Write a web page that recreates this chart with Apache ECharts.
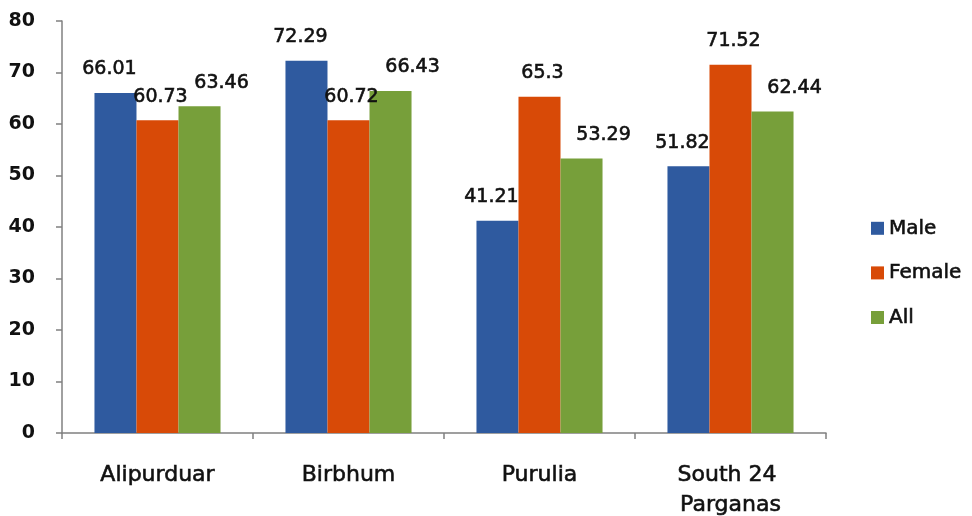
<!DOCTYPE html>
<html>
<head>
<meta charset="utf-8">
<script src="https://cdn.jsdelivr.net/npm/echarts@6/dist/echarts.min.js"></script>
<style>
  html, body { margin: 0; padding: 0; background: #fff; }
  #chart { width: 972px; height: 516px; }
</style>
</head>
<body>
<div id="chart"></div>
<script>
// districts on the x axis
var categories = ['Alipurduar', 'Birbhum', 'Purulia', 'South 24 Parganas'];
var maleValues = [66.01, 72.29, 41.21, 51.82];
var femaleValues = [60.73, 60.72, 65.3, 71.52];
var allValues = [63.46, 66.43, 53.29, 62.44];
var yTicks = [0, 10, 20, 30, 40, 50, 60, 70, 80];

var chart = echarts.init(document.getElementById('chart'));

function barSeries(name, color, values, dx) {
  return {
    name: name,
    type: 'bar',
    data: values,
    barGap: '0%',
    barCategoryGap: '34%',
    itemStyle: { color: color },
    label: {
      show: true,
      position: 'top',
      distance: 14,
      offset: [dx, 0],
      fontFamily: 'DejaVu Sans',
      fontSize: 19,
      color: '#111',
      textBorderColor: '#111',
      textBorderWidth: 0.6
    }
  };
}

chart.setOption({
  animation: false,
  grid: { left: 62, right: 146, top: 21, bottom: 83, outerBoundsMode: 'none' },
  legend: {
    orient: 'vertical',
    left: 866,
    top: 213,
    itemWidth: 13,
    itemHeight: 13,
    itemGap: 24,
    itemTextGap: 10,
    icon: 'rect',
    textStyle: {
      fontFamily: 'DejaVu Sans', fontSize: 20, color: '#111',
      textBorderColor: '#111', textBorderWidth: 0.6
    },
    data: ['Male', 'Female', 'All']
  },
  xAxis: {
    type: 'category',
    data: categories,
    axisLine: { lineStyle: { color: '#808080', width: 1.5 } },
    axisTick: { show: true, length: 6, lineStyle: { color: '#808080', width: 1.5 } },
    axisLabel: {
      interval: 0,
      margin: 27,
      width: 160,
      overflow: 'break',
      lineHeight: 30,
      fontFamily: 'DejaVu Sans',
      fontSize: 22,
      color: '#111',
      textBorderColor: '#111',
      textBorderWidth: 0.6
    }
  },
  yAxis: {
    type: 'value',
    min: yTicks[0],
    max: yTicks[yTicks.length - 1],
    interval: 10,
    splitLine: { show: false },
    axisLine: { show: true, lineStyle: { color: '#808080', width: 1.5 } },
    axisTick: { show: true, length: 6, lineStyle: { color: '#808080', width: 1.5 } },
    axisLabel: {
      margin: 27,
      fontFamily: 'DejaVu Sans',
      fontWeight: 'bold',
      fontSize: 19,
      color: '#111'
    }
  },
  series: [
    barSeries('Male', '#2F5A9F', maleValues, -6),
    barSeries('Female', '#D84A07', femaleValues, 3),
    barSeries('All', '#779F3A', allValues, 22)
  ]
});
</script>
</body>
</html>
